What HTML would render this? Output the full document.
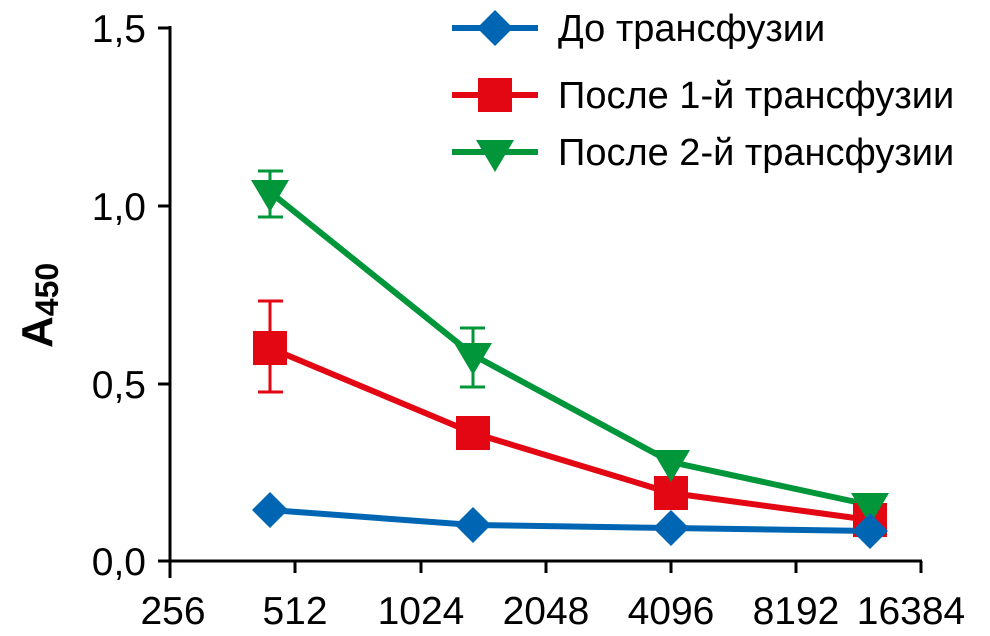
<!DOCTYPE html>
<html><head><meta charset="utf-8"><style>body{margin:0;background:#fff}svg{display:block}text{font-family:"Liberation Sans",sans-serif;fill:#000}</style></head><body>
<svg width="990" height="636" viewBox="0 0 990 636">
<g stroke="#000" stroke-width="3" fill="none">
<line x1="170" y1="26" x2="170" y2="578"/>
<line x1="158" y1="561" x2="922" y2="561"/>
<line x1="158" y1="28" x2="170" y2="28"/><line x1="158" y1="206" x2="170" y2="206"/><line x1="158" y1="384" x2="170" y2="384"/>
<line x1="295" y1="561" x2="295" y2="573"/><line x1="421" y1="561" x2="421" y2="573"/><line x1="546" y1="561" x2="546" y2="573"/><line x1="671" y1="561" x2="671" y2="573"/><line x1="796" y1="561" x2="796" y2="573"/><line x1="921" y1="561" x2="921" y2="573"/>
</g>
<g font-size="39" text-anchor="end">
<text x="146" y="42">1,5</text><text x="146" y="220">1,0</text><text x="146" y="398">0,5</text><text x="146" y="575">0,0</text>
</g>
<g font-size="39" text-anchor="middle">
<text x="173" y="624">256</text><text x="295" y="624">512</text><text x="421" y="624">1024</text><text x="546" y="624">2048</text><text x="671" y="624">4096</text><text x="796" y="624">8192</text><text x="911" y="624">16384</text>
</g>
<text transform="translate(52,348) rotate(-90)" font-size="44" font-weight="bold">A<tspan font-size="32" dy="6">450</tspan></text>
<g stroke="#e30613" stroke-width="3"><line x1="270" y1="301" x2="270" y2="392"/><line x1="258" y1="301" x2="283" y2="301"/><line x1="258" y1="392" x2="283" y2="392"/></g>
<g stroke="#009639" stroke-width="3"><line x1="270" y1="171" x2="270" y2="217"/><line x1="258" y1="171" x2="283" y2="171"/><line x1="258" y1="217" x2="283" y2="217"/>
<line x1="473" y1="328" x2="473" y2="387"/><line x1="460" y1="328" x2="485" y2="328"/><line x1="460" y1="387" x2="485" y2="387"/></g>
<polyline points="270,510 473,525 671,528 870,531" stroke="#0066b3" stroke-width="6" fill="none"/>
<polyline points="270,348 473,433 671,493 870,520" stroke="#e30613" stroke-width="6" fill="none"/>
<polyline points="270,192 473,355 671,462 870,505" stroke="#009639" stroke-width="6" fill="none"/>
<g fill="#e30613"><rect x="253" y="331" width="34" height="34"/><rect x="456" y="416" width="34" height="34"/><rect x="654" y="476" width="34" height="34"/><rect x="853" y="503" width="34" height="34"/></g>
<g fill="#009639"><path d="M251,180h38l-19,32z"/><path d="M454,343h38l-19,32z"/><path d="M652,450h38l-19,32z"/><path d="M851,493h38l-19,32z"/></g>
<g fill="#0066b3"><path d="M270,492l18,18l-18,18l-18,-18z"/><path d="M473,507l18,18l-18,18l-18,-18z"/><path d="M671,510l18,18l-18,18l-18,-18z"/><path d="M870,513l18,18l-18,18l-18,-18z"/></g>
<line x1="452" y1="28" x2="538" y2="28" stroke="#0066b3" stroke-width="6"/><path d="M495,10l18,18l-18,18l-18,-18z" fill="#0066b3"/>
<line x1="452" y1="95" x2="538" y2="95" stroke="#e30613" stroke-width="6"/><rect x="478" y="78" width="34" height="34" fill="#e30613"/>
<line x1="452" y1="152" x2="538" y2="152" stroke="#009639" stroke-width="6"/><path d="M476,140h38l-19,32z" fill="#009639"/>
<g font-size="38"><text x="558" y="41">До трансфузии</text><text x="558" y="108">После 1-й трансфузии</text><text x="558" y="165">После 2-й трансфузии</text></g>
</svg></body></html>
